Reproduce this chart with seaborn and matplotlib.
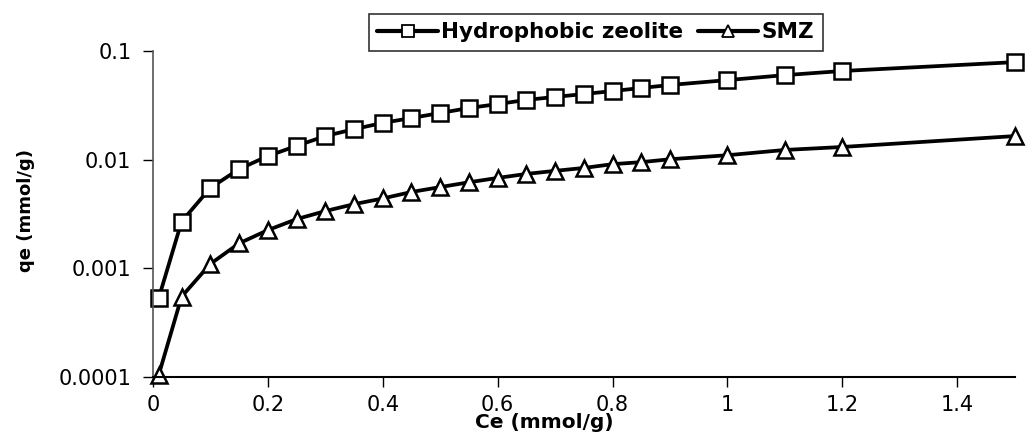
import matplotlib
matplotlib.use("Agg")
import matplotlib.pyplot as plt
import seaborn as sns
import pandas as pd

sns.set_theme(style="white")
plt.rcParams['font.family'] = ['DejaVu Sans']
plt.rcParams['text.color'] = 'black'
plt.rcParams['axes.labelcolor'] = 'black'
plt.rcParams['xtick.color'] = 'black'
plt.rcParams['ytick.color'] = 'black'

ce = [0.01, 0.05, 0.1, 0.15, 0.2, 0.25, 0.3, 0.35, 0.4, 0.45, 0.5, 0.55,
      0.6, 0.65, 0.7, 0.75, 0.8, 0.85, 0.9, 1.0, 1.1, 1.2, 1.5]
qe_hydrophobic = [0.00053, 0.0027, 0.0055, 0.0082, 0.0108, 0.0134, 0.0165,
                  0.0191, 0.0218, 0.0242, 0.0269, 0.0299, 0.0325, 0.0355,
                  0.0378, 0.0402, 0.0428, 0.0457, 0.0487, 0.054, 0.060,
                  0.0655, 0.079]
qe_smz = [0.000104, 0.00055, 0.0011, 0.0017, 0.00225, 0.00284, 0.00337,
          0.0039, 0.0044, 0.00505, 0.0056, 0.0062, 0.0068, 0.0074, 0.0079,
          0.0084, 0.0091, 0.0095, 0.0101, 0.011, 0.0123, 0.0131, 0.0165]
series_names = ["Hydrophobic zeolite", "SMZ"]

df = pd.DataFrame({
    "Ce": ce + ce,
    "qe": qe_hydrophobic + qe_smz,
    "series": [series_names[0]] * len(ce) + [series_names[1]] * len(ce),
})

fig = plt.figure(figsize=(10.26, 4.36), dpi=100)
ax = fig.add_axes([0.149, 0.135, 0.84, 0.748])

sns.lineplot(data=df, x="Ce", y="qe", hue="series", style="series",
             markers={series_names[0]: "s", series_names[1]: "^"},
             dashes=False, palette=["black", "black"], linewidth=2.7,
             markersize=12, markerfacecolor="white", markeredgecolor="black",
             markeredgewidth=1.8, ax=ax, clip_on=False)

ax.set_yscale("log")
ax.set_xlim(0, 1.5)
ax.set_ylim(0.0001, 0.1)
ax.set_xticks([0, 0.2, 0.4, 0.6, 0.8, 1.0, 1.2, 1.4])
ax.set_xticklabels(["0", "0.2", "0.4", "0.6", "0.8", "1", "1.2", "1.4"])
ax.set_yticks([0.0001, 0.001, 0.01, 0.1])
ax.set_yticklabels(["0.0001", "0.001", "0.01", "0.1"])
ax.minorticks_off()
ax.tick_params(axis="both", which="major", direction="out", length=7.5,
               width=1, color="black", labelsize=15, pad=5, left=True,
               bottom=True)
ax.tick_params(axis="y", pad=8)

for side in ["top", "right"]:
    ax.spines[side].set_visible(False)
ax.spines["left"].set_color("#555555")
ax.spines["left"].set_linewidth(1.2)
ax.spines["bottom"].set_color("black")
ax.spines["bottom"].set_linewidth(1.5)

ax.set_xlabel("Ce (mmol/g)", fontsize=14.5, fontweight="bold")
ax.set_ylabel("qe (mmol/g)", fontsize=13, fontweight="bold")
ax.xaxis.set_label_coords(0.454, -0.11)
ax.yaxis.set_label_coords(-0.137, 0.51)

handles, labels = ax.get_legend_handles_labels()
for h in handles:
    h.set_markerfacecolor("white")
    h.set_markeredgecolor("black")
    h.set_markersize(8)
    h.set_markeredgewidth(1.3)
    h.set_linewidth(3)
leg = ax.legend(handles, labels, loc="lower center", bbox_to_anchor=(0.514, 1.0),
                ncol=2, frameon=True, fancybox=False, edgecolor="black",
                borderpad=0.4, handlelength=2.8, handletextpad=0.15,
                columnspacing=0.7, borderaxespad=0,
                prop={"size": 15.5, "weight": "bold"})
leg.get_frame().set_linewidth(1.2)

plt.savefig("out.png", dpi=100)
plt.close()
